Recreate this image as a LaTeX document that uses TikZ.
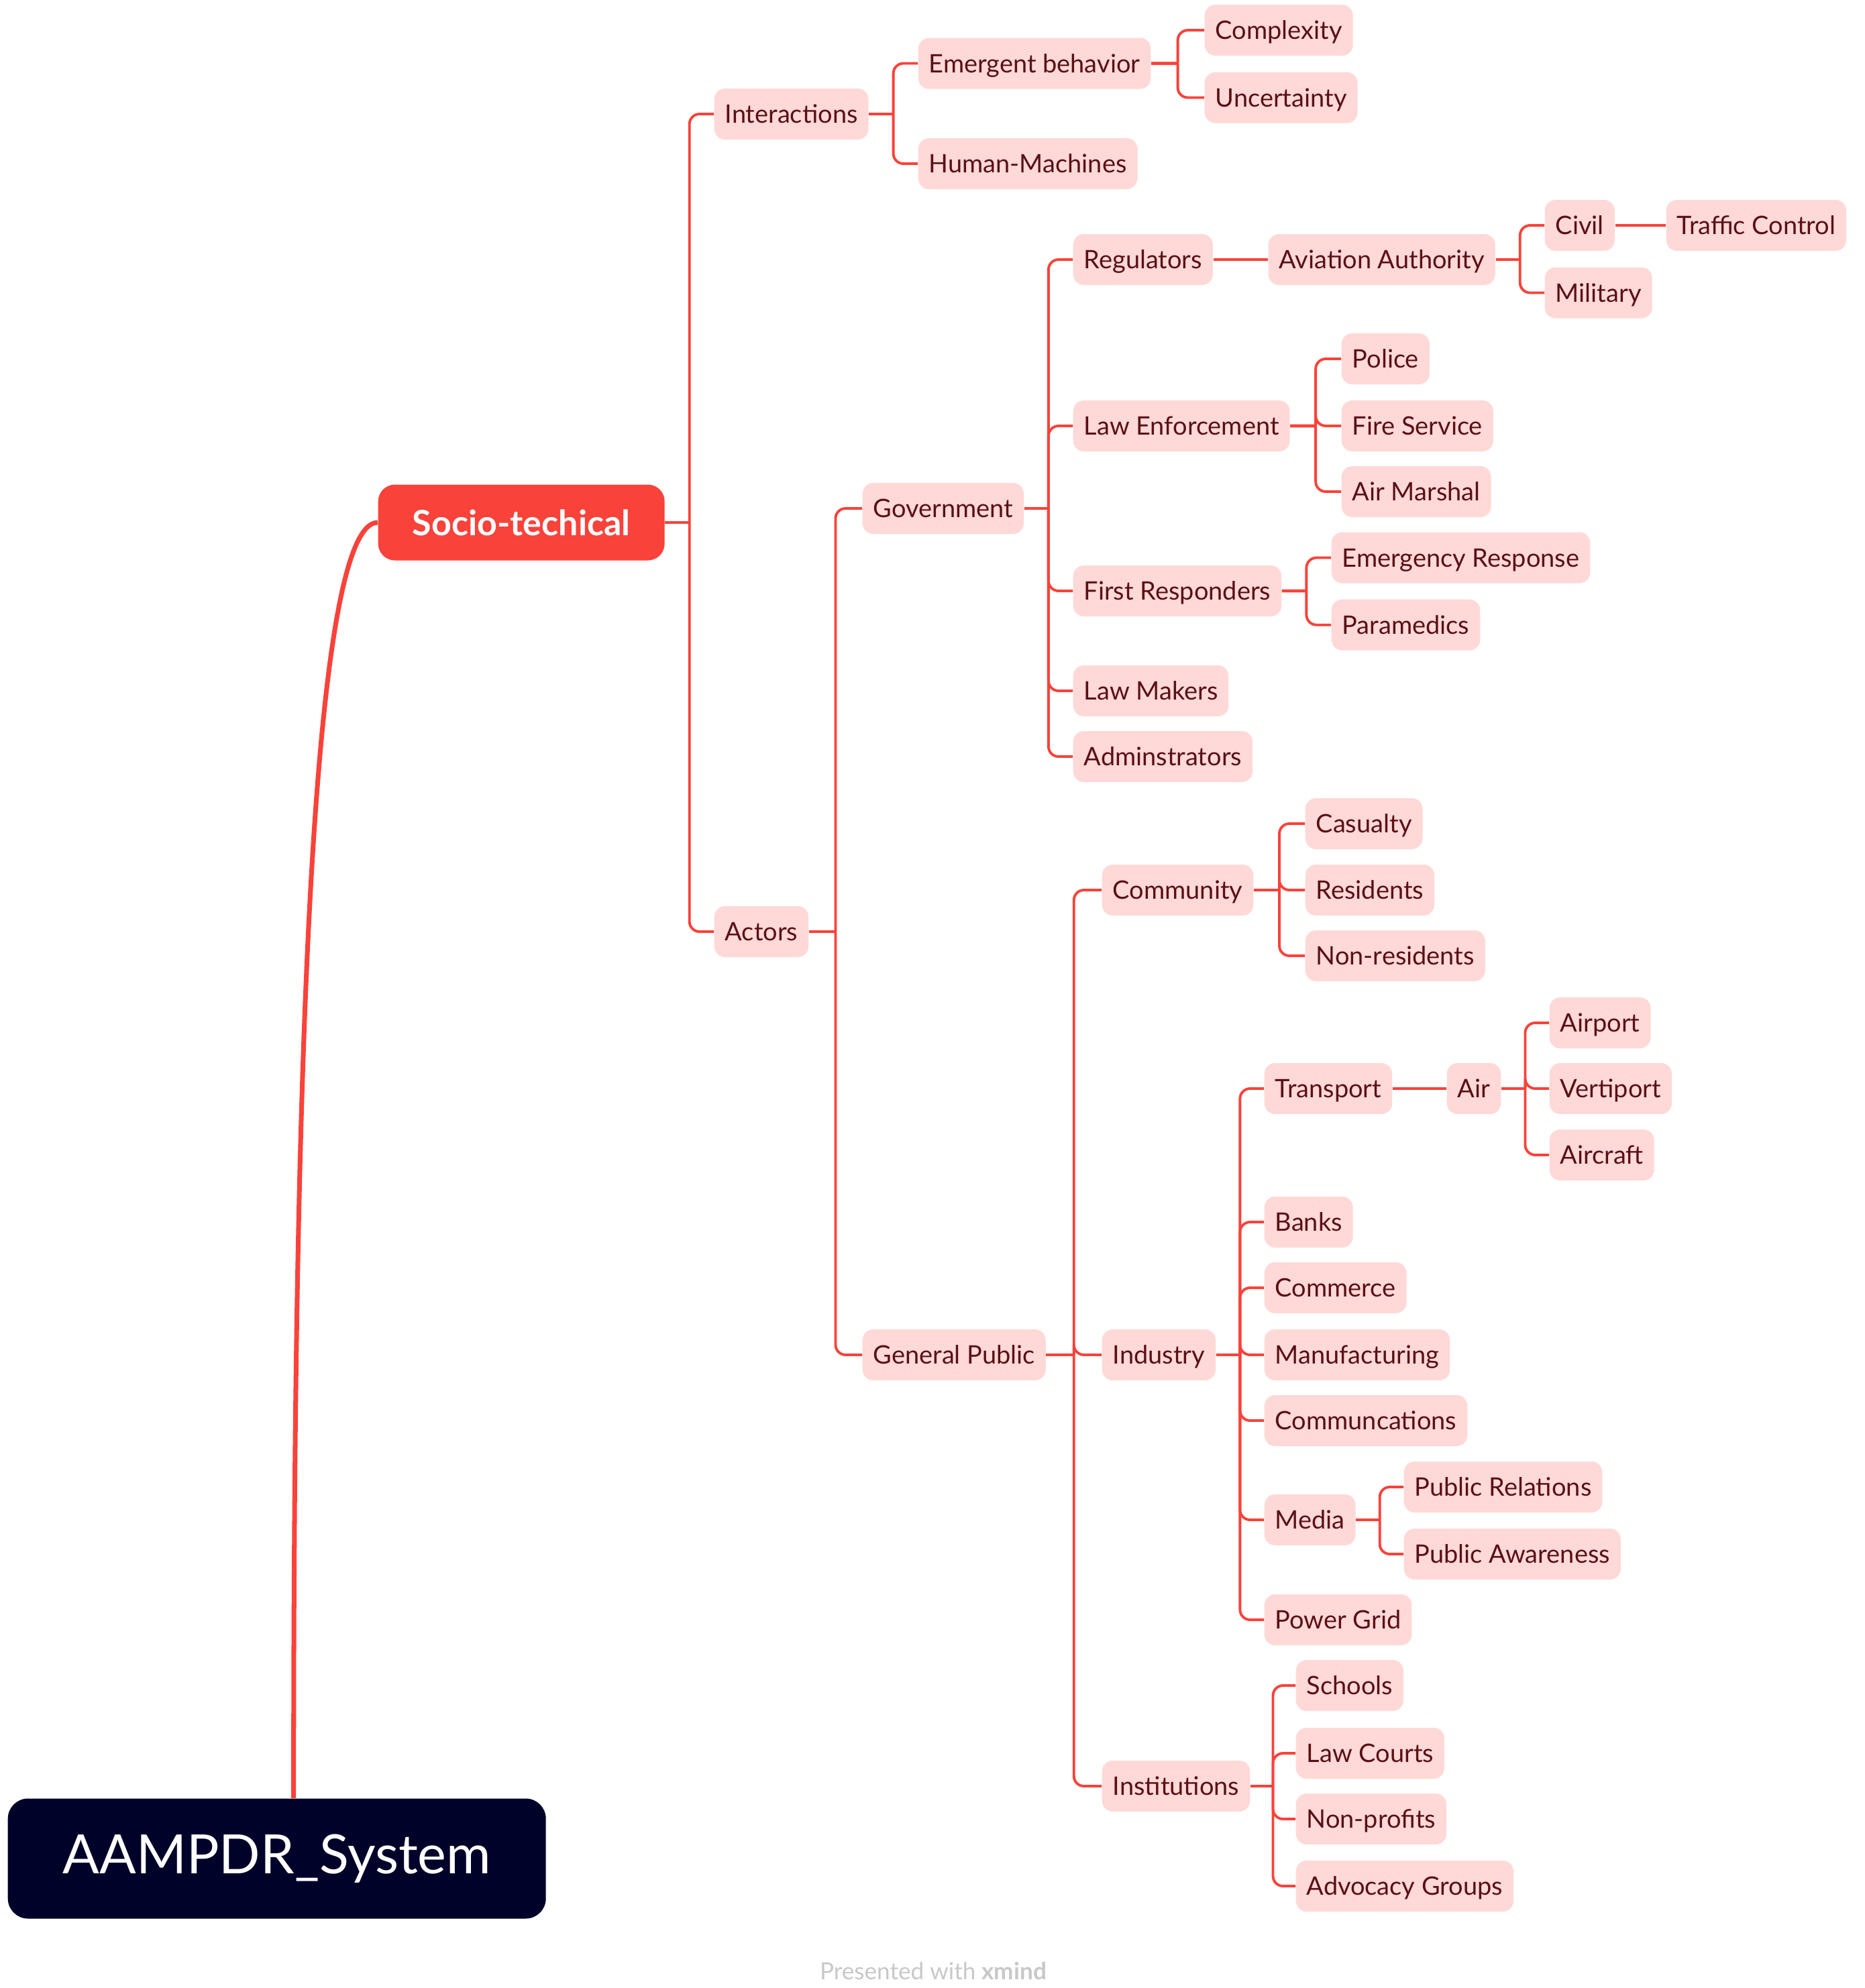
\documentclass[tikz,border=0pt]{standalone}
\usepackage{fontspec}
\setmainfont{Lato}
\usetikzlibrary{calc}
\definecolor{xred}{HTML}{F9423A}
\definecolor{xpink}{HTML}{FFD9D7}
\definecolor{xtext}{HTML}{5A1016}
\definecolor{xnavy}{HTML}{000229}
\definecolor{xgrey}{HTML}{C8C8C8}

\tikzset{
  topic/.style={anchor=west,fill=xpink,text=xtext,rounded corners=0.16cm,
    inner xsep=0.16cm,inner ysep=0pt,minimum height=0.76cm,
    text height=0.27cm,text depth=0cm,font=\fontsize{10.8}{13}\selectfont},
  stub/.style={draw=xred,line width=1.2pt},
  twig/.style={draw=xred,line width=1.1pt,rounded corners=0.15cm}
}
% parent -> children, elbow through the middle of the gap
\newcommand{\branch}[2]{%
  \foreach \c in {#2}{%
    \coordinate (#1-j) at ($(#1.east)!.5!(\c.west |- #1.east)$);
    \draw[stub] (#1.east) -- (#1-j);
    \draw[twig] (#1-j) |- (\c.west);
  }}
% parent -> single child, straight
\newcommand{\link}[2]{\draw[stub] (#1.east) -- (#2.west);}

\begin{document}
\begin{tikzpicture}[y=-1cm]
\useasboundingbox (0,0) rectangle (27.80,29.64);

\node[anchor=west,fill=xnavy,text=white,rounded corners=0.3cm,minimum width=8.02cm,minimum height=1.79cm,font=\fontsize{23}{27}\selectfont] (sys) at (0.11,27.71) {AAMPDR\_System};
\node[anchor=west,fill=xred,text=white,rounded corners=0.25cm,minimum width=4.27cm,minimum height=1.13cm,font=\fontsize{14.8}{18}\selectfont\bfseries] (socio) at (5.63,7.79) {Socio-techical};

% first level
\node[topic] (inter) at (10.64,1.70) {Interactions};
\node[topic] (actors) at (10.64,13.89) {Actors};
\node[topic] (emerg) at (13.68,0.945) {Emergent behavior};
\node[topic] (human) at (13.68,2.44) {Human-Machines};
\node[topic] (cplx) at (17.95,0.45) {Complexity};
\node[topic] (uncert) at (17.95,1.455) {Uncertainty};

% government
\node[topic] (gov) at (12.85,7.58) {Government};
\node[topic] (reg) at (15.99,3.87) {Regulators};
\node[topic] (lawenf) at (15.99,6.35) {Law Enforcement};
\node[topic] (firstr) at (15.99,8.81) {First Responders};
\node[topic] (lawmk) at (15.99,10.30) {Law Makers};
\node[topic] (admin) at (15.99,11.28) {Adminstrators};
\node[topic] (avia) at (18.90,3.87) {Aviation Authority};
\node[topic] (civil) at (23.02,3.36) {Civil};
\node[topic] (mil) at (23.02,4.365) {Military};
\node[topic] (traffic) at (24.83,3.36) {Traffic Control};
\node[topic] (police) at (19.99,5.35) {Police};
\node[topic] (fire) at (19.99,6.35) {Fire Service};
\node[topic] (airm) at (19.99,7.33) {Air Marshal};
\node[topic] (emresp) at (19.84,8.315) {Emergency Response};
\node[topic] (para) at (19.84,9.317) {Paramedics};

% general public
\node[topic] (pub) at (12.85,20.20) {General Public};
\node[topic] (comm) at (16.42,13.27) {Community};
\node[topic] (ind) at (16.42,20.20) {Industry};
\node[topic] (inst) at (16.42,26.63) {Institutions};
\node[topic] (casu) at (19.45,12.28) {Casualty};
\node[topic] (resid) at (19.45,13.27) {Residents};
\node[topic] (nonres) at (19.45,14.25) {Non-residents};
\node[topic] (trans) at (18.84,16.23) {Transport};
\node[topic] (banks) at (18.84,18.22) {Banks};
\node[topic] (comrc) at (18.84,19.20) {Commerce};
\node[topic] (manuf) at (18.84,20.20) {Manufacturing};
\node[topic] (commun) at (18.84,21.18) {Communcations};
\node[topic] (media) at (18.84,22.66) {Media};
\node[topic] (power) at (18.84,24.15) {Power Grid};
\node[topic] (air) at (21.56,16.23) {Air};
\node[topic] (airport) at (23.09,15.25) {Airport};
\node[topic] (verti) at (23.09,16.23) {Vertiport};
\node[topic] (acraft) at (23.09,17.22) {Aircraft};
\node[topic] (pubrel) at (20.92,22.17) {Public Relations};
\node[topic] (pubaw) at (20.92,23.17) {Public Awareness};
\node[topic] (schools) at (19.31,25.13) {Schools};
\node[topic] (courts) at (19.31,26.14) {Law Courts};
\node[topic] (nonprof) at (19.31,27.12) {Non-profits};
\node[topic] (advoc) at (19.31,28.12) {Advocacy Groups};

% connectors
\draw[xred,line width=2pt] ([xshift=0.25cm]sys.north) .. controls (4.37,15) and (4.7,7.79) .. (socio.west);
\branch{socio}{inter,actors}
\branch{inter}{emerg,human}
\branch{emerg}{cplx,uncert}
\branch{actors}{gov,pub}
\branch{gov}{reg,lawenf,firstr,lawmk,admin}
\link{reg}{avia}
\branch{avia}{civil,mil}
\link{civil}{traffic}
\branch{lawenf}{police,fire,airm}
\branch{firstr}{emresp,para}
\branch{pub}{comm,ind,inst}
\branch{comm}{casu,resid,nonres}
\branch{ind}{trans,banks,comrc,manuf,commun,media,power}
\link{trans}{air}
\branch{air}{airport,verti,acraft}
\branch{media}{pubrel,pubaw}
\branch{inst}{schools,courts,nonprof,advoc}

\node[text=xgrey,font=\fontsize{10}{12}\selectfont] (mark) at (13.91,29.39) {Presented with \textbf{xmind}};
\end{tikzpicture}
\end{document}
